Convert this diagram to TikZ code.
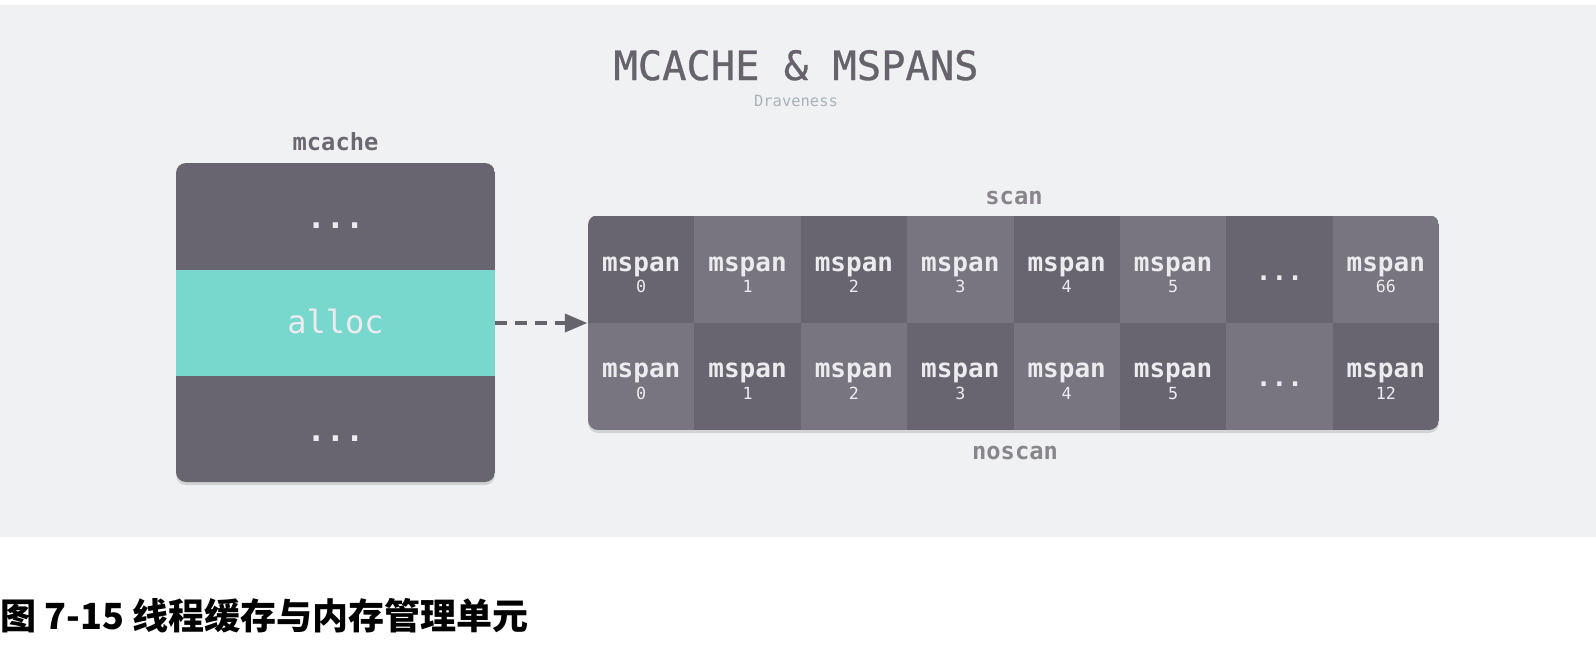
\documentclass[tikz,border=0pt]{standalone}
\usepackage{fontspec}
\setmonofont{DejaVu Sans Mono}
\newfontfamily\titlefont{DejaVu Sans Mono}[FakeBold=0.8]
\newfontfamily\cjk{Noto Sans CJK SC}
\usepackage{xcolor}
\usetikzlibrary{arrows.meta}

\definecolor{bgcolor}{RGB}{240,241,243}
\definecolor{spandark}{RGB}{105,101,112}
\definecolor{spanlight}{RGB}{121,117,128}
\definecolor{alloccolor}{RGB}{121,216,206}
\definecolor{titlecolor}{RGB}{103,99,109}
\definecolor{authorcolor}{RGB}{168,178,188}
\definecolor{lblcolor}{RGB}{108,104,114}
\definecolor{sublblcolor}{RGB}{136,133,141}
\definecolor{celltext}{RGB}{236,236,238}

\begin{document}
\begin{tikzpicture}[
    x=0.02cm, y=-0.02cm,
    lbl/.style={anchor=base, inner sep=0pt, font=\ttfamily\bfseries\fontsize{13.5}{16}\selectfont, text=#1},
    lbl/.default=lblcolor,
    section/.style={rectangle, draw=none, fill=#1, minimum width=6.38cm, minimum height=2.14cm, inner sep=0pt},
    cell/.style={rectangle, draw=none, fill=#1, minimum width=2.1275cm, minimum height=2.14cm, inner sep=0pt},
    bigtext/.style={anchor=base, inner sep=0pt, font=\ttfamily\fontsize{18.2}{22}\selectfont, text=celltext},
    bigdots/.style={bigtext, font=\ttfamily\bfseries\fontsize{18.2}{22}\selectfont},
    spanname/.style={anchor=base, inner sep=0pt, font=\ttfamily\bfseries\fontsize{14.8}{18}\selectfont, text=celltext},
    spanidx/.style={anchor=base, inner sep=0pt, font=\ttfamily\fontsize{9.5}{11}\selectfont, text=celltext},
    shade/.style={fill=black, opacity=0.12, rounded corners=0.2cm},
    arr/.style={-{Triangle[length=13pt, width=10pt]}, line width=2.8pt, dash pattern=on 6.8pt off 4.5pt, draw=titlecolor}
]
\useasboundingbox (0,0) rectangle (1596,664);
\fill[bgcolor] (0,5) rectangle (1596,537);

% title
\node[anchor=base, inner sep=0pt, font=\titlefont\fontsize{23}{28}\selectfont, text=titlecolor] (title) at (796,80) {MCACHE \& MSPANS};
\node[anchor=base, inner sep=0pt, font=\ttfamily\fontsize{8.8}{10}\selectfont, text=authorcolor] (author) at (796,106) {Draveness};

% mcache
\fill[shade] (176,166) rectangle (495,485);
\begin{scope}
  \clip[rounded corners=0.2cm] (176,163) rectangle (495,482);
  \node[section=spandark] (cachetop) at (335.5,216.5) {};
  \node[section=alloccolor] (alloc) at (335.5,323) {};
  \node[section=spandark] (cachebot) at (335.5,429.5) {};
\end{scope}
\node[lbl] (mcachelbl) at (335.5,150) {mcache};
\node[bigdots] at ([yshift=-0.23cm]cachetop.center) {...};
\node[bigtext] at ([yshift=-0.2cm]alloc.center) {alloc};
\node[bigdots] at ([yshift=-0.23cm]cachebot.center) {...};

% mspans
\fill[shade] (588,218) rectangle (1439,433);
\begin{scope}
  \clip[rounded corners=0.2cm] (588,215) rectangle (1439,430);
  \foreach \c in {0,...,7}{
    \pgfmathsetmacro\xc{641.19+106.375*\c}
    \ifodd\c
      \node[cell=spanlight] (scan\c) at (\xc,269) {};
      \node[cell=spandark] (noscan\c) at (\xc,376) {};
    \else
      \node[cell=spandark] (scan\c) at (\xc,269) {};
      \node[cell=spanlight] (noscan\c) at (\xc,376) {};
    \fi
  }
\end{scope}
\foreach \c/\a/\b in {0/0/0,1/1/1,2/2/2,3/3/3,4/4/4,5/5/5,7/66/12}{
  \node[spanname] at ([yshift=-0.04cm]scan\c.center) {mspan};
  \node[spanidx] at ([yshift=-0.46cm]scan\c.center) {\a};
  \node[spanname] at ([yshift=-0.02cm]noscan\c.center) {mspan};
  \node[spanidx] at ([yshift=-0.46cm]noscan\c.center) {\b};
}
\node[spanname] at ([yshift=-0.22cm]scan6.center) {...};
\node[spanname] at ([yshift=-0.2cm]noscan6.center) {...};
\node[lbl=sublblcolor] (scanlbl) at (1014,204) {scan};
\node[lbl=sublblcolor] (noscanlbl) at (1015,459) {noscan};

\draw[arr] (alloc.east) -- (alloc.east -| scan0.west);

% caption
\node[anchor=base west, inner sep=0pt, font=\cjk\bfseries\fontsize{20.5}{25}\selectfont] (caption) at (0,629) {图 7-15 线程缓存与内存管理单元};
\end{tikzpicture}
\end{document}
